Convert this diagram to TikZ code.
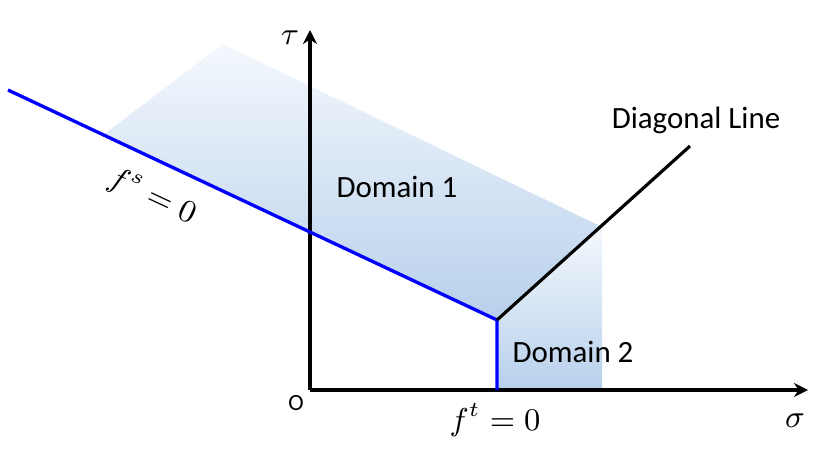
\documentclass[tikz,border=0pt]{standalone}
\usepackage{fontspec}
\setmainfont{Carlito}
\usetikzlibrary{arrows.meta}
\definecolor{domainblue}{RGB}{183,208,235}
\definecolor{fadeblue}{RGB}{244,248,253}

\begin{document}
\begin{tikzpicture}[font=\fontsize{8.8}{10.5}\selectfont,
        axis/.style={line width=0.9pt,-{Stealth[length=1.4mm,width=1.4mm,inset=0.45mm]}},
        yieldline/.style={blue,line width=0.95pt},
        domainshade/.style={top color=fadeblue,bottom color=domainblue}]
    \useasboundingbox (-3.10,-0.72) rectangle (5.11,3.90);
    \coordinate (O) at (0,0);
    \coordinate (tauend) at (0,3.60);
    \coordinate (sigend) at (4.98,0);
    \coordinate (sstart) at (-3.02,3.00);
    \coordinate (corner) at (1.87,0.70);
    \coordinate (foot) at (1.87,0);
    \coordinate (diagend) at (3.80,2.44);
    % shaded domains
    \shade[domainshade] (-2.07,2.55) -- (-0.87,3.46) -- (2.92,1.63) -- (corner) -- cycle;
    \shade[domainshade] (corner) -- (2.92,1.63) -- (2.92,0) -- (foot) -- cycle;
    % axes
    \draw[axis] (O) -- (tauend);
    \draw[axis] (O) -- (sigend);
    % yield lines
    \draw[yieldline] (sstart) -- (corner) -- (foot);
    \draw[line width=0.9pt] (corner) -- (diagend);
    % labels
    \node (taulabel) at (-0.20,3.52) {$\tau$};
    \node (siglabel) at (4.85,-0.31) {$\sigma$};
    \node[font=\fontsize{6.6}{8}\selectfont] (olabel) at (-0.14,-0.13) {O};
    \node (dom1) at (0.87,2.03) {Domain 1};
    \node (dom2) at (2.63,0.38) {Domain 2};
    \node (diaglabel) at (3.86,2.70) {Diagonal Line};
    \node (ftlabel) at (1.85,-0.30) {$f^t = 0$};
    \node[rotate=-25] (fslabel) at (-1.58,1.93) {$f^s = 0$};
\end{tikzpicture}
\end{document}
